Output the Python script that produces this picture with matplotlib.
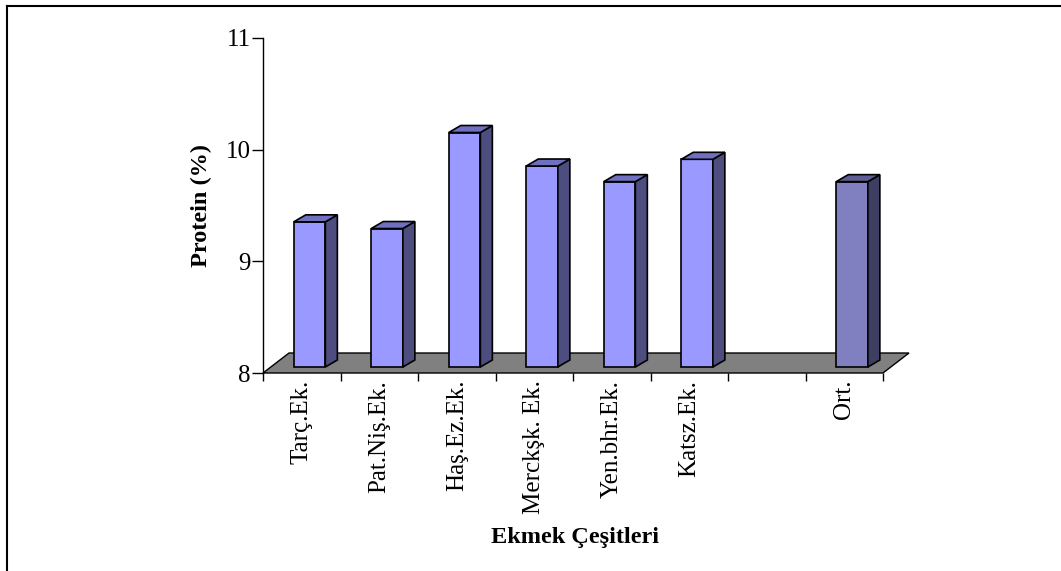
import matplotlib
matplotlib.use("Agg")
import matplotlib.pyplot as plt
from matplotlib.patches import Polygon
from matplotlib.lines import Line2D

plt.rcParams['font.family'] = ['Liberation Serif', 'DejaVu Serif']

# protein değerleri (%)
kategoriler = ['Tarç.Ek.', 'Pat.Niş.Ek.', 'Haş.Ez.Ek.', 'Merckşk. Ek.',
               'Yen.bhr.Ek.', 'Katsz.Ek.', '', 'Ort.']
protein = [9.30, 9.24, 10.10, 9.80, 9.66, 9.86, None, 9.66]
yTicks = [8, 9, 10, 11]

W, H = 1061, 571
fig = plt.figure(figsize=(W / 100, H / 100), dpi=100)
ax = fig.add_axes([263 / W, 1 - 373 / H, 620 / W, 335 / H])
ax.set_xlim(0, len(kategoriler))
ax.set_ylim(8, 11)

# piksel -> veri birimi
px_x = 1 / 77.5
px_y = 1 / 111.7

# zemin (3B taban)
zx, zy = 26 * px_x, 20 * px_y
n = len(kategoriler)
zemin = Polygon([(0, 8), (n, 8), (n + zx, 8 + zy), (zx, 8 + zy)],
                closed=True, facecolor='#808080', edgecolor='black',
                lw=1.0, clip_on=False, zorder=1)
ax.add_patch(zemin)

# sütunlar
taban = 8 + 6 * px_y
kaydir = 7.8 * px_x
genislik = 31.6 * px_x
dx, dy = 12 * px_x, 7 * px_y
for i, v in enumerate(protein):
    if v is None:
        continue
    if kategoriler[i] == 'Ort.':
        on, yan, ust = '#8080C0', '#3E3E62', '#5E5E94'
    else:
        on, yan, ust = '#9999FF', '#4D4D80', '#7070C0'
    x0 = i + 0.5 + kaydir - genislik / 2
    tepe = taban + (v - 8)
    ax.bar(x0, v - 8, width=genislik, bottom=taban, align='edge',
           color=on, edgecolor='black', lw=1.2, clip_on=False, zorder=3)
    ax.add_patch(Polygon([(x0 + genislik, taban), (x0 + genislik + dx, taban + dy),
                          (x0 + genislik + dx, tepe + dy), (x0 + genislik, tepe)],
                         closed=True, facecolor=yan, edgecolor='black', lw=1.2,
                         clip_on=False, zorder=3))
    ax.add_patch(Polygon([(x0, tepe), (x0 + genislik, tepe),
                          (x0 + genislik + dx, tepe + dy), (x0 + dx, tepe + dy)],
                         closed=True, facecolor=ust, edgecolor='black', lw=1.2,
                         clip_on=False, zorder=3))

for s in ['top', 'right', 'bottom']:
    ax.spines[s].set_visible(False)
ax.spines['left'].set_linewidth(1.0)

ax.set_yticks(yTicks)
ax.set_yticklabels([str(t) for t in yTicks], fontsize=18)
ax.tick_params(axis='y', direction='out', length=8, width=1.0, pad=1)

ax.set_xticks(range(n + 1))
ax.set_xticklabels([''] * (n + 1))
ax.set_xticks([i + 0.5 for i in range(n)], minor=True)
ax.set_xticklabels(kategoriler, minor=True, rotation=90, fontsize=18, va='top')
ax.tick_params(axis='x', which='major', direction='out', length=6, width=1.0)
ax.tick_params(axis='x', which='minor', length=0, pad=5)

fig.text(201.5 / W, 1 - 205.5 / H, 'Protein (%)', rotation=90, ha='center',
         va='center', fontsize=17.5, fontweight='bold')
fig.text(575 / W, 1 - 537 / H, 'Ekmek Çeşitleri', ha='center', va='center',
         fontsize=17.5, fontweight='bold')

# çerçeve (üst ve sol kenar)
fig.add_artist(Line2D([7 / W, 1.0], [1 - 6 / H, 1 - 6 / H], color='black', lw=1.5))
fig.add_artist(Line2D([7 / W, 7 / W], [0, 1 - 6 / H], color='black', lw=1.5))

fig.savefig('out.png', dpi=100)
